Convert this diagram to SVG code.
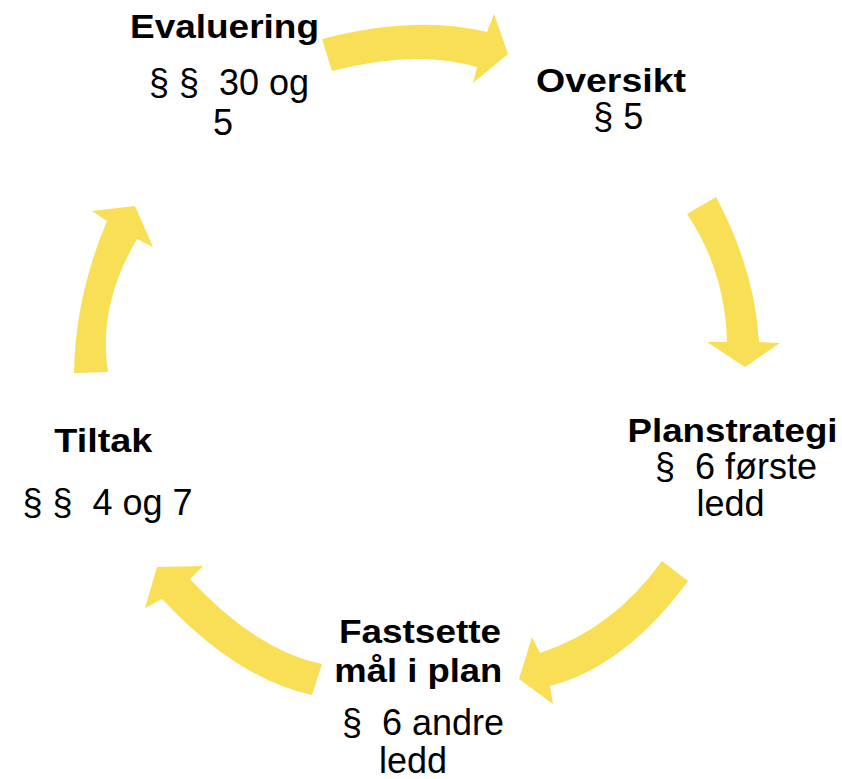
<svg xmlns="http://www.w3.org/2000/svg" width="842" height="779" viewBox="0 0 842 779">
<style>
.b{font-family:"Liberation Sans",Arial,sans-serif;font-weight:bold;font-size:34px;fill:#000;text-anchor:middle}
.r{font-family:"Liberation Sans",Arial,sans-serif;font-size:36px;fill:#000;text-anchor:middle}
.arr{fill:#F9DF55;stroke:none}
</style>
<rect width="842" height="779" fill="#fff"/>
<g id="connectors">
<path class="arr" d="M322,39 Q415.5,14.5 487,32 L494,14 L508,54 L473,83 L477,67 Q415.5,49 332,71 Z"/>
<path class="arr" d="M687,214 L716,197 Q755,270 759,342 L780,343 L745,367 L707,342 L727,342 Q725,270 687,214 Z"/>
<path class="arr" d="M662,561 L688,581 Q625,666.5 550,686 L553,704 L519,679 L532,637 L540,653 Q613,629 662,561 Z"/>
<path class="arr" d="M322,664 L312,695 Q237,679 162,599 L145,608 L157,567 L203,566 L190,579 Q256,650.5 322,664 Z"/>
<path class="arr" d="M74,373 L108,372 Q97.5,305.5 137,239 L153,247 L135,206 L92,211 L107,221 Q75,297 74,373 Z"/>
</g>
<g id="evaluering">
<text class="b" x="224.5" y="37.5" textLength="189" lengthAdjust="spacingAndGlyphs">Evaluering</text>
<text class="r" x="229" y="94.5" xml:space="preserve">§ §  30 og</text>
<text class="r" x="223" y="135">5</text>
</g>
<g id="oversikt">
<text class="b" x="611" y="91.5" textLength="150" lengthAdjust="spacingAndGlyphs">Oversikt</text>
<text class="r" x="618.3" y="129">§ 5</text>
</g>
<g id="planstrategi">
<text class="b" x="732.5" y="441.5" textLength="210" lengthAdjust="spacingAndGlyphs">Planstrategi</text>
<text class="r" x="736" y="479" xml:space="preserve">§  6 første</text>
<text class="r" x="730.5" y="516">ledd</text>
</g>
<g id="fastsette">
<text class="b" x="420" y="642.5" textLength="162" lengthAdjust="spacingAndGlyphs">Fastsette</text>
<text class="b" x="418.3" y="681.5" textLength="168" lengthAdjust="spacingAndGlyphs">mål i plan</text>
<text class="r" x="423" y="735" xml:space="preserve">§  6 andre</text>
<text class="r" x="413" y="773">ledd</text>
</g>
<g id="tiltak">
<text class="b" x="103.3" y="452" textLength="98" lengthAdjust="spacingAndGlyphs">Tiltak</text>
<text class="r" x="107.5" y="515" xml:space="preserve">§ §  4 og 7</text>
</g>
</svg>
